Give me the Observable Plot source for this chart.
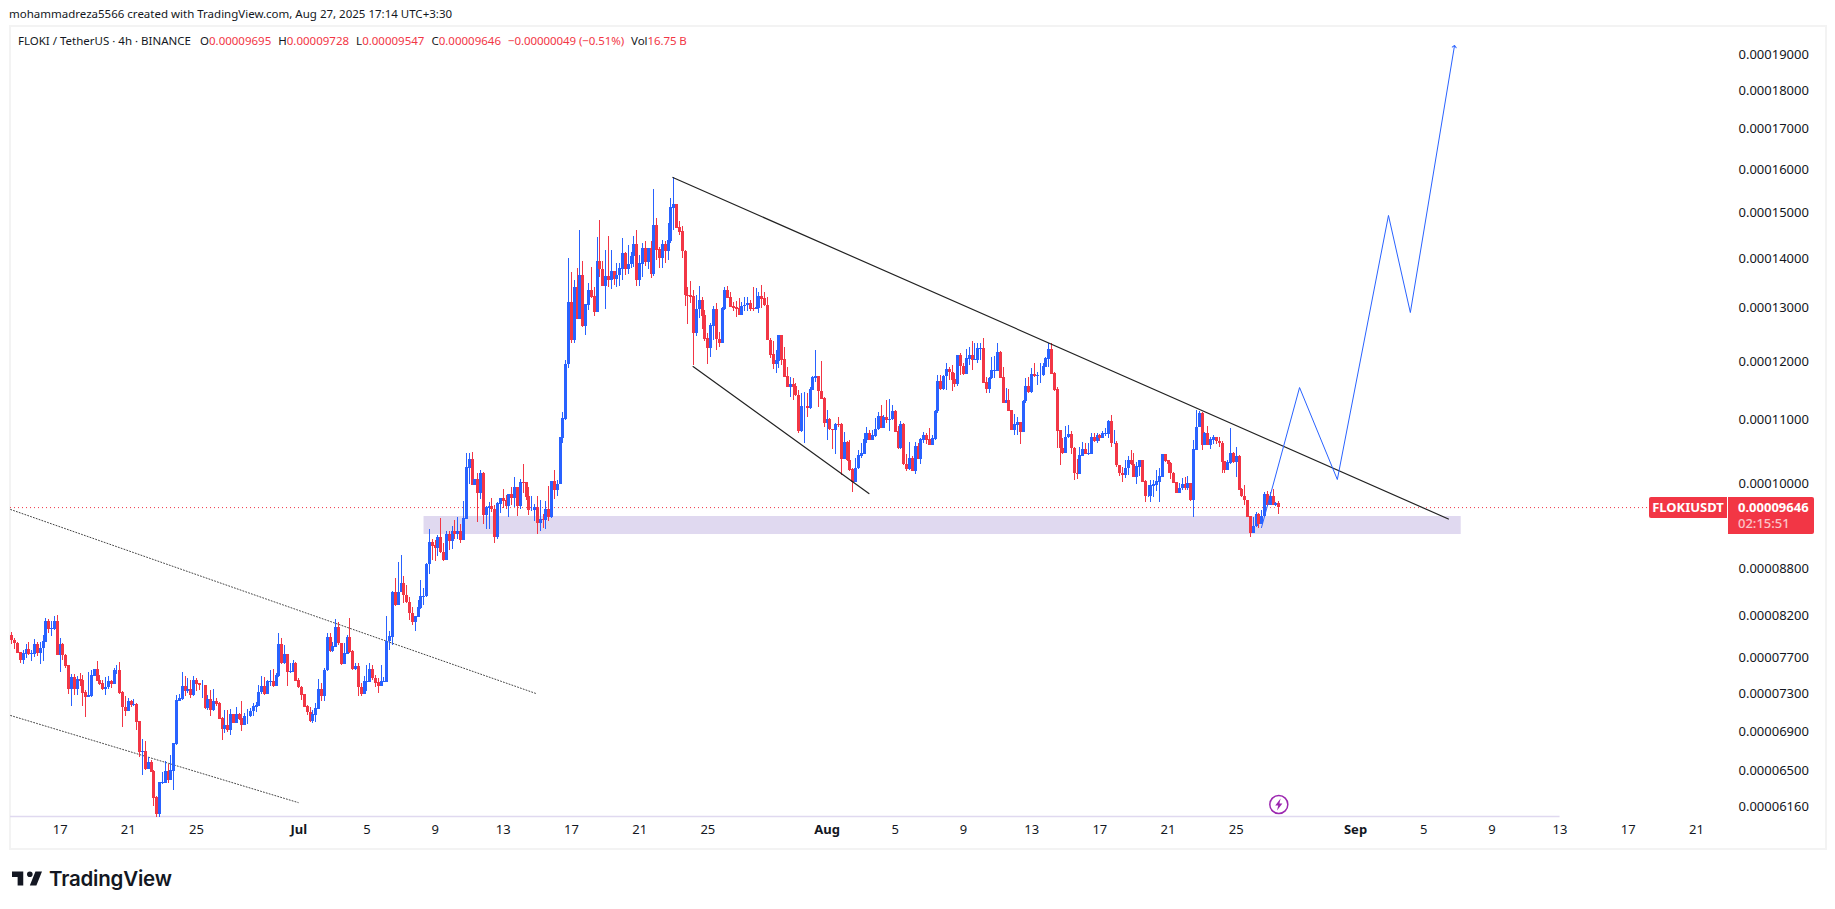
<!DOCTYPE html>
<html>
<head>
<meta charset="utf-8">
<script src="https://cdn.jsdelivr.net/npm/d3@7"></script>
<script src="https://cdn.jsdelivr.net/npm/@observablehq/plot@0.6"></script>
<style>
  body { margin: 0; background: #fff; color: #131722; font-family: "Noto Sans", sans-serif; }
  #page { position: relative; width: 1835px; height: 909px; overflow: hidden; }
  #credit { position: absolute; left: 9px; top: 6px; font-size: 11.5px; white-space: nowrap; }
  #frame { position: absolute; left: 9px; top: 25px; width: 1814px; height: 821px; border: 2px solid #f3f3f3; }
  #chart { position: absolute; left: 0; top: 26px; }
  #legend { position: absolute; left: 18px; top: 33px; font-size: 11.5px; white-space: nowrap; }
  #legend .v { color: #f23645; }
  #legend span.g { margin-left: 7px; }
  #legend span.first { margin-left: 9px; }
  #legend span.tight { letter-spacing: -.08px; }
  .tag { position: absolute; background: #f23645; color: #fff; font-weight: 700; font-size: 13px; box-sizing: border-box; }
  #symbolTag { left: 1649px; width: 78px; height: 21px; line-height: 21px; text-align: center; border-radius: 2px 0 0 2px; }
  #priceTag { left: 1728px; width: 86px; height: 37px; padding: 2px 0 0 10px; line-height: 16px; border-radius: 0 2px 2px 0; }
  #priceTag div + div { opacity: .7; font-weight: 500; }
  #logo { position: absolute; left: 12px; top: 866px; display: flex; align-items: center; gap: 7px; font-family: Inter, sans-serif; font-weight: 600; font-size: 20.5px; letter-spacing: -.2px; color: #131722; }
</style>
</head>
<body>
<div id="page">
  <div id="frame"></div>
  <div id="chart"></div>
  <div id="credit">mohammadreza5566 created with TradingView.com, Aug 27, 2025 17:14 UTC+3:30</div>
  <div id="legend">FLOKI / TetherUS · 4h · BINANCE<span class="g first">O<span class="v">0.00009695</span></span><span class="g">H<span class="v">0.00009728</span></span><span class="g">L<span class="v">0.00009547</span></span><span class="g">C<span class="v">0.00009646</span></span><span class="g v tight">−0.00000049 (−0.51%)</span><span class="g tight">Vol<span class="v">16.75 B</span></span></div>
  <div id="symbolTag" class="tag">FLOKIUSDT</div>
  <div id="priceTag" class="tag"><div>0.00009646</div><div>02:15:51</div></div>
  <div id="logo">
    <svg width="30" height="15" viewBox="2 6 32 15"><path fill="#131722" d="M14 6H2v6h6v9h6V6Zm14 15h-7l6-15h7l-6 15Zm-7-9a3 3 0 1 0 0-6 3 3 0 0 0 0 6Z"/></svg>
    <span>TradingView</span>
  </div>
</div>
<script>
// prices are in units of 0.00000001, one candle every 4 hours, 10 per row
const firstOpen = 7965
const closes = [
  7905,7870,7760,7675,7745,7800,7745,7745,7850,7760,
  7810,7890,8130,8045,8045,8130,7730,7850,7730,7610,
  7350,7480,7350,7450,7440,7305,7265,7275,7495,7570,
  7440,7405,7355,7370,7430,7410,7560,7560,7310,7150,
  7110,7210,7175,7185,6995,6690,6690,6525,6585,6495,
  6245,6100,6385,6390,6495,6410,6505,6770,7225,7245,
  7375,7330,7345,7285,7440,7410,7390,7390,7145,7235,
  7120,7215,7190,7030,6925,6955,6915,7070,6990,7070,
  7030,6970,7055,7055,7110,7160,7165,7315,7380,7295,
  7430,7430,7380,7495,7850,7640,7740,7540,7540,7640,
  7440,7370,7285,7160,7100,7005,7070,7135,7345,7270,
  7560,7935,7780,7830,8055,7870,7630,7745,7935,7770,
  7570,7600,7370,7295,7430,7430,7570,7470,7420,7380,
  7430,7430,7895,7945,8495,8330,8495,8605,8455,8370,
  8230,8125,8185,8300,8435,8445,8860,9150,9105,9075,
  9215,9020,8910,9260,9170,9305,9265,9305,9190,9485,
  10240,10360,9970,10055,9860,10140,9540,9645,9655,9620,
  9225,9700,9775,9740,9660,9825,9780,9940,9660,10010,
  10005,9800,9605,9605,9645,9420,9470,9460,9615,9510,
  10030,9900,9985,10705,11015,11950,13105,12390,13400,12790,
  13650,12660,13065,13350,13215,12930,13930,13775,13445,13630,
  13550,13720,13570,13650,13780,14100,13780,13880,14050,14300,
  13550,13885,14205,13935,14205,13690,14700,14190,14005,14300,
  14150,14375,15110,15165,14660,14575,14155,13250,13245,13215,
  12520,12975,13150,12850,12420,12245,12660,12960,12405,12340,
  12990,13350,13195,13025,13005,12990,12875,13035,13055,13085,
  12990,12980,13005,13215,13185,13055,12390,12125,11950,12010,
  12470,12035,11725,11550,11600,11560,11410,10820,11220,11220,
  11195,11500,11715,11725,11475,11350,10950,11005,10840,10830,
  10925,10910,10375,10635,10350,10200,10020,10225,10425,10450,
  10670,10770,10670,10735,10840,11055,10870,11030,10990,11005,
  11140,10805,10540,10925,10290,10215,10375,10190,10560,10375,
  10670,10740,10670,10595,10690,11140,11650,11510,11735,11850,
  11810,11680,11610,12110,11915,11770,12050,12110,12030,12030,
  12230,12230,11625,11510,11700,11840,11840,12160,11715,11275,
  11320,11150,10830,10910,10950,10805,11305,11560,11460,11770,
  11735,11755,11755,11900,12050,12220,11785,11500,10820,10540,
  10460,10715,10755,10540,10150,10140,10425,10525,10450,10450,
  10705,10650,10740,10705,10770,10770,10975,10615,10615,10275,
  10150,10125,10225,10350,10290,10100,10255,10340,10020,9810,
  9810,9965,9975,10020,10095,10435,10340,10300,10150,10005,
  9860,9925,9975,9925,10000,9750,10510,10875,11100,10595,
  10770,10595,10670,10705,10650,10615,10325,10200,10310,10460,
  10325,10410,9900,9810,9750,9510,9290,9375,9545,9415,
  9520,9825,9680,9800,9680,9695,9646
]
const highs = [
  8000,7925,7885,7770,7790,7855,7880,7790,7915,7885,
  7880,7965,8170,8160,8140,8200,8210,7925,7870,7740,
  7620,7510,7510,7495,7525,7505,7340,7540,7555,7575,
  7660,7505,7450,7480,7490,7450,7580,7615,7650,7330,
  7265,7245,7225,7235,7190,7000,6815,6800,6640,6605,
  6505,6255,6395,6485,6595,6570,6655,6780,7285,7290,
  7540,7490,7465,7450,7490,7470,7410,7450,7390,7285,
  7340,7345,7245,7205,7050,7120,7120,7130,7070,7155,
  7090,7215,7085,7135,7145,7190,7205,7390,7495,7480,
  7450,7560,7570,7525,7985,7925,7850,7745,7640,7675,
  7655,7470,7375,7295,7170,7150,7120,7190,7460,7410,
  7580,7985,7990,7885,8155,8120,7875,7865,7965,8170,
  7790,7640,7640,7410,7490,7615,7640,7615,7505,7470,
  7615,7480,8190,8015,8510,8675,8885,8985,8695,8585,
  8435,8310,8195,8390,8650,8540,8875,9330,9200,9180,
  9245,9495,9135,9305,9310,9375,9460,9510,9405,9735,
  10460,10460,10470,10055,10150,10200,10160,9665,9725,9775,
  9675,9725,9785,9915,9825,9825,9940,10085,9940,10055,
  10290,10005,9940,9810,9695,9810,9750,9545,9735,9960,
  10030,10200,10045,10705,11120,12020,14000,13720,13560,13790,
  14610,13950,13070,13500,13810,13400,14450,14830,13950,14170,
  14480,14170,13735,13900,13900,14430,14135,14280,14135,14465,
  14610,14070,14330,14355,14225,14355,15525,14870,14245,14390,
  14355,14760,15310,15800,15165,14810,14700,14170,13400,13530,
  13340,13250,13430,13215,12960,12520,12710,13025,13100,12530,
  13005,13400,13420,13300,13120,13140,13185,13120,13215,13215,
  13150,13400,13380,13315,13450,13300,13215,12420,12360,12200,
  12485,12485,12265,11895,11725,11700,11610,11490,11445,11460,
  11435,11550,11735,12200,11735,12000,11375,11160,11015,10840,
  10935,11045,10935,10800,10650,10660,10225,10375,10510,10620,
  10770,10870,10820,10830,11020,11125,11235,11075,11330,11335,
  11235,11150,10885,10980,10935,10450,10635,10410,10635,10610,
  10690,10800,10770,10855,10740,11160,11755,11755,11755,11960,
  11900,11930,11785,12110,12140,11970,12230,12250,12360,12340,
  12325,12340,12420,11725,11725,12080,12090,12325,12180,11895,
  11520,11505,11160,11095,11045,10960,11320,11700,11715,11870,
  11960,11810,11960,11960,12080,12340,12340,11810,11550,10830,
  10690,10885,10910,10805,10555,10360,10555,10635,10615,10615,
  10780,10770,10780,10760,10815,10855,10990,11070,10830,10650,
  10275,10250,10350,10410,10500,10460,10325,10350,10350,10045,
  9970,10045,10045,10200,10225,10450,10450,10350,10325,10165,
  10020,10000,10070,10095,10105,10005,10660,11150,11140,11115,
  10800,10895,10715,10740,10715,10715,10650,10340,10350,10855,
  10475,10555,10425,9925,9975,9750,9520,9510,9580,9565,
  9605,9860,9875,9860,9910,9720,9728
]
const lows = [
  7860,7800,7750,7640,7630,7695,7730,7665,7705,7720,
  7630,7665,7885,7985,7955,8025,7730,7540,7675,7585,
  7290,7165,7285,7285,7385,7165,7045,7260,7260,7490,
  7430,7395,7340,7285,7350,7355,7405,7510,7295,6945,
  7055,7110,7155,7160,6910,6640,6460,6510,6550,6485,
  6165,6070,6070,6375,6385,6385,6410,6315,6760,7220,
  7225,7265,7300,7245,7265,7320,7340,7245,7135,7120,
  7055,7110,7160,7020,6805,6875,6890,6860,6980,6990,
  7015,6900,6960,6970,7045,7055,7095,7160,7295,7285,
  7295,7380,7370,7375,7485,7630,7630,7380,7525,7540,
  7430,7355,7225,7155,7065,6995,6980,6995,7125,7220,
  7220,7550,7770,7770,7820,7850,7610,7630,7745,7750,
  7555,7560,7265,7275,7305,7320,7420,7450,7370,7305,
  7410,7430,7430,7785,7850,8320,8330,8530,8360,8360,
  8145,8085,8015,8185,8280,8330,8430,8730,8910,8900,
  8965,9010,8895,8910,9045,9060,9200,9200,9145,9190,
  9475,9985,9970,9970,9435,9765,9400,9340,9340,9580,
  9145,9190,9555,9630,9615,9510,9675,9650,9520,9620,
  9855,9755,9530,9590,9450,9270,9310,9355,9330,9450,
  9495,9765,9805,9985,10610,10990,11870,12330,12330,12790,
  12960,12630,12485,12960,13200,12845,12910,13620,13440,12980,
  13400,13370,13440,13400,13430,13550,13650,13680,13790,13825,
  13420,13430,13620,13845,13780,13585,13640,13970,13790,13790,
  13900,13970,14330,14610,14660,14500,14000,13030,12690,13085,
  11940,12465,12805,12595,12360,11950,12070,12390,12200,12265,
  12340,12960,13185,13025,12930,12815,12865,12865,12930,12930,
  12930,12930,12975,12900,12990,13025,12380,12055,11860,11790,
  11880,11930,11725,11540,11380,11320,11395,10780,10800,10610,
  11045,11180,11490,11630,11210,11340,10880,10670,10830,10525,
  10450,10870,10120,10375,10340,10175,9860,10020,10215,10375,
  10440,10610,10660,10660,10720,10830,10855,10855,10935,10805,
  10990,10795,10530,10525,10280,10175,10190,10180,10135,10360,
  10290,10620,10595,10590,10580,10670,11105,11490,11490,11500,
  11670,11480,11550,11570,11755,11755,11770,11940,11840,12020,
  11960,12020,11610,11445,11445,11680,11700,11825,11700,11265,
  11265,11140,10820,10740,10740,10595,10790,11280,11450,11450,
  11725,11580,11610,11735,11890,11900,11770,11480,10540,10275,
  10450,10460,10700,10450,10045,10055,10140,10410,10440,10435,
  10450,10630,10620,10650,10705,10725,10705,10555,10595,10250,
  10100,10020,10070,10125,10275,10090,9985,10100,10010,9725,
  9800,9725,9800,9875,9725,10095,10325,10150,10055,9995,
  9850,9850,9900,9890,9900,9740,9500,10500,10875,10500,
  10595,10580,10525,10595,10595,10560,10150,10150,10190,10290,
  10300,10095,9890,9800,9680,9500,9230,9290,9365,9345,
  9405,9510,9670,9670,9670,9665,9547
]

// price axis
const priceTicks = [19000,18000,17000,16000,15000,14000,13000,12000,11000,10000,8800,8200,7700,7300,6900,6500,6160]
const lastPrice = 9646

// time axis
const dayTicks = ["2025-06-17","2025-06-21","2025-06-25","2025-07-05","2025-07-09","2025-07-13","2025-07-17","2025-07-21","2025-07-25",
  "2025-08-05","2025-08-09","2025-08-13","2025-08-17","2025-08-21","2025-08-25","2025-09-05","2025-09-09","2025-09-13","2025-09-17","2025-09-21"]
const monthTicks = ["2025-07-01","2025-08-01","2025-09-01"]

// drawings, positions given in candle numbers and prices
const fallingTrendBars = [232.7, 505.7], fallingTrendPrices = [15810, 9483]
const lowerTrendBars = [239.8, 301.7], lowerTrendPrices = [11914, 9851]
const oldTrendBars = [-0.4, 184.5], oldTrendPrices = [9618, 7303]
const oldChannelBars = [-0.4, 100.8], oldChannelPrices = [7066, 6203]
const projectionBars = [439.9, 453.3, 466.6, 484.6, 492.3, 507.8]
const projectionPrices = [9362, 11545, 10060, 14937, 12917, 19237]
const zoneBars = [145.1, 510.2], zonePrices = [9265, 9518]
const boltBar = 446, boltPrice = 6185

const start = Date.UTC(2025, 5, 14, 4)
const barTime = i => new Date(start + i * 4 * 3600 * 1000)
const axisEnd = new Date(Date.UTC(2025, 8, 23))
const candles = closes.map((c, i) => {
  const open = i ? closes[i - 1] : firstOpen
  return { time: barTime(i), open, close: c, high: highs[i], low: lows[i], color: c >= open ? "#2962ff" : "#f23645" }
})
const line = (bars, prices) => bars.map((b, i) => ({ time: barTime(b), price: prices[i] }))

// el rayo del marcador, dibujado alrededor del punto
const bolt = {
  draw(ctx) {
    ctx.moveTo(1.8, -6)
    ctx.lineTo(-3.6, 1)
    ctx.lineTo(-0.6, 1)
    ctx.lineTo(-1.8, 6)
    ctx.lineTo(3.6, -1)
    ctx.lineTo(0.6, -1)
    ctx.closePath()
  }
}

let chart = Plot.plot({
  width: 1835,
  height: 823,
  marginLeft: 10,
  marginRight: 105,
  marginTop: 2,
  marginBottom: 33,
  style: { background: "transparent", fontFamily: "'Noto Sans', sans-serif", fontSize: "13px", color: "#131722" },
  x: { type: "utc", domain: [barTime(-0.47), axisEnd] },
  y: { type: "log", domain: [6075, 19760], axis: null },
  marks: [
    Plot.rect([0], {
      x1: () => barTime(zoneBars[0]), x2: () => barTime(zoneBars[1]),
      y1: () => zonePrices[0], y2: () => zonePrices[1], fill: "#e0d9f0"
    }),
    Plot.ruleY([6075], { x1: barTime(-0.47), x2: new Date(Date.UTC(2025, 8, 13)), stroke: "#e0d9f0", strokeWidth: 1.5 }),
    Plot.ruleY([lastPrice], { stroke: "#f23645", strokeDasharray: "1 3", strokeWidth: 1 }),
    Plot.line(line(oldTrendBars, oldTrendPrices), { x: "time", y: "price", stroke: "#444", strokeWidth: 1, strokeDasharray: "1 2" }),
    Plot.line(line(oldChannelBars, oldChannelPrices), { x: "time", y: "price", stroke: "#444", strokeWidth: 1, strokeDasharray: "1 2" }),
    // mechas y cuerpos de las velas
    Plot.ruleX(candles, { x: "time", y1: "low", y2: "high", stroke: "color", strokeWidth: 1, shapeRendering: "crispEdges" }),
    Plot.ruleX(candles, {
      x: "time",
      y1: d => Math.min(d.open, d.close) * 0.9995,
      y2: d => Math.max(d.open, d.close) * 1.0005,
      stroke: "color",
      strokeWidth: 3,
      shapeRendering: "crispEdges"
    }),
    Plot.line(line(fallingTrendBars, fallingTrendPrices), { x: "time", y: "price", stroke: "#222", strokeWidth: 1.2 }),
    Plot.line(line(lowerTrendBars, lowerTrendPrices), { x: "time", y: "price", stroke: "#222", strokeWidth: 1.2 }),
    Plot.line(line(projectionBars, projectionPrices), { x: "time", y: "price", stroke: "#2962ff", strokeWidth: 1, markerEnd: "arrow" }),
    Plot.dot([0], { x: () => barTime(boltBar), y: () => boltPrice, r: 9, stroke: "#9c27b0", strokeWidth: 1.5, fill: "#fff" }),
    Plot.dot([0], { x: () => barTime(boltBar), y: () => boltPrice, symbol: bolt, fill: "#9c27b0", stroke: "none" }),
    // las etiquetas de precio van a la derecha de la escala
    Plot.text(priceTicks, {
      x: () => axisEnd, y: d => d, text: d => (d / 1e8).toFixed(8),
      textAnchor: "start", dx: 8, fill: "#131722"
    }),
    Plot.axisX({
      ticks: dayTicks.map(d => new Date(d)), tickSize: 0, tickPadding: 8, label: null,
      tickFormat: d3.utcFormat("%-d")
    }),
    Plot.axisX({
      ticks: monthTicks.map(d => new Date(d)), tickSize: 0, tickPadding: 8, label: null, fontWeight: 700,
      tickFormat: d3.utcFormat("%b")
    })
  ]
})
d3.select('#chart').append(() => chart)

// etiquetas del precio actual, a la altura que da la escala
const tagTop = 26 + chart.scale("y").apply(lastPrice) - 10.5
d3.select('#symbolTag').style('top', tagTop + 'px')
d3.select('#priceTag').style('top', tagTop + 'px')
</script>
</body>
</html>
